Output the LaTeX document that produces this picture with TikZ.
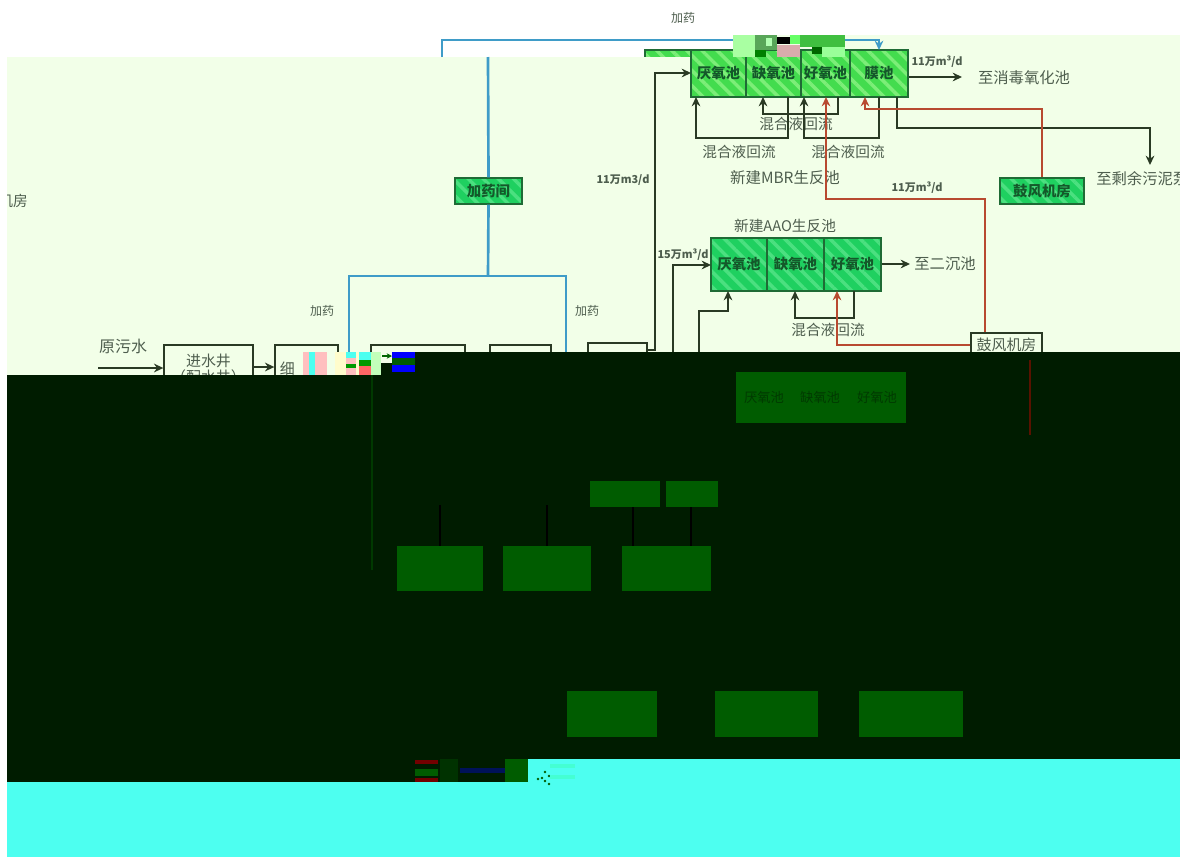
\documentclass[tikz,border=0pt]{standalone}
\usepackage{fontspec}
\setmainfont{Noto Sans CJK SC}
\usetikzlibrary{patterns.meta,arrows.meta,calc}
\definecolor{palebg}{HTML}{F2FFE8}
\definecolor{darkbg}{HTML}{001C00}
\definecolor{cyanbg}{HTML}{4DFFF0}
\definecolor{flowblk}{HTML}{2A3A24}
\definecolor{bluel}{HTML}{3F9CC8}
\definecolor{redl}{HTML}{B84A30}
\definecolor{labelc}{HTML}{4E5E4E}
\definecolor{greenA}{HTML}{43DC4E}
\definecolor{greenAs}{HTML}{7CEE78}
\definecolor{greenB}{HTML}{1FD060}
\definecolor{greenBs}{HTML}{4BE080}
\definecolor{edgeg}{HTML}{1F6B35}
\definecolor{tanktxt}{HTML}{14582A}
\definecolor{darkbox}{HTML}{005C00}
\definecolor{darktxt}{HTML}{003A00}
\tikzset{
  flow/.style={draw=flowblk,line width=1.9pt,-{Stealth[length=7pt,width=6.5pt]}},
  blueflow/.style={draw=bluel,line width=2pt},
  redflow/.style={draw=redl,line width=2pt},
  redarrow/.style={redflow,-{Stealth[length=7pt,width=6.5pt]}},
  plainbox/.style={draw=flowblk,line width=1pt,fill=palebg,text=labelc,font=\fontsize{11.2}{13}\selectfont},
  tankA/.style={draw=edgeg,line width=1pt,preaction={fill=greenA},pattern={Lines[angle=-45,distance=8pt,line width=2.6pt]},pattern color=greenAs,text=tanktxt,font=\fontsize{10.8}{12}\selectfont\bfseries},
  tankB/.style={draw=edgeg,line width=1pt,preaction={fill=greenB},pattern={Lines[angle=-45,distance=8pt,line width=2.6pt]},pattern color=greenBs,text=tanktxt,font=\fontsize{10.8}{12}\selectfont\bfseries},
  darktank/.style={draw=none,fill=darkbox,text=darktxt,font=\fontsize{10}{12}\selectfont},
  lab/.style={text=labelc,font=\fontsize{11}{13}\selectfont,inner sep=0pt},
  biglab/.style={text=labelc,font=\fontsize{11.5}{13}\selectfont,inner sep=0pt},
  smalllab/.style={text=labelc,font=\fontsize{9}{10}\selectfont,inner sep=0pt},
  ratelab/.style={text=labelc,font=\fontsize{8.2}{9}\selectfont\bfseries,inner sep=0pt},
}
% \pbox[style]{name}{x1}{y1}{x2}{y2}{text}
\newcommand\pbox[7][]{%
  \pgfmathsetmacro\pcx{(#3+#5)/2}\pgfmathsetmacro\pcy{(#4+#6)/2}%
  \pgfmathsetmacro\pw{(#5-#3)*0.75}\pgfmathsetmacro\ph{(#6-#4)*0.75}%
  \node[#1,rectangle,inner sep=0pt,minimum width=\pw pt,minimum height=\ph pt] (#2) at (\pcx,\pcy) {#7};}
\newcommand\pfill[5]{\fill[#1] (#2,#3) rectangle (#4,#5);}
\begin{document}
\begin{tikzpicture}[x=0.75pt,y=-0.75pt]
\useasboundingbox (0,0) rectangle (1192,857);
\fill[white] (0,0) rectangle (1192,857);
\fill[palebg] (7,57) rectangle (1180,380);
\fill[palebg] (733,35) rectangle (1180,57);

% shifted top slice
\pbox[tankA]{topA}{645}{50}{700}{70}{}
\pbox[tankA]{topB}{700}{50}{755}{70}{}
\fill[palebg] (640,57) rectangle (691,72);

% MBR tank
\pbox[tankA]{mbrA}{691}{50}{746}{97}{厌氧池}
\pbox[tankA]{mbrB}{746}{50}{801}{97}{缺氧池}
\pbox[tankA]{mbrC}{801}{50}{850}{97}{好氧池}
\pbox[tankA]{mbrD}{850}{50}{908}{97}{膜池}

% AAO tank
\pbox[tankB]{aaoA}{711}{238}{767}{291}{厌氧池}
\pbox[tankB]{aaoB}{767}{238}{824}{291}{缺氧池}
\pbox[tankB]{aaoC}{824}{238}{881}{291}{好氧池}

% dosing room and blowers
\pbox[tankB]{dose}{455}{178}{522}{204}{加药间}
\pbox[tankB]{blowG}{1000}{178}{1084}{204}{鼓风机房}
\pbox[plainbox]{blowW}{971}{333}{1042}{357}{鼓风机房}

% inlet row
\pbox[plainbox,align=center]{well}{164}{345}{253}{392}{进水井\\[-1pt]（配水井）}
\pbox[plainbox,align=left,text width=40pt]{fine}{275}{345}{338}{392}{细}
\pbox[plainbox]{boxC}{371}{345}{465}{392}{}
\pbox[plainbox]{boxD}{490}{345}{551}{392}{}
\pbox[plainbox]{boxE}{588}{343}{647}{392}{}

% labels
\node[smalllab] (t1) at (683,18) {加药};
\node[smalllab] (t2) at (322,311) {加药};
\node[smalllab] (t3) at (587,311) {加药};
\node[lab,font=\fontsize{12}{13}\selectfont] (t4) at (123,346) {原污水};
\node[lab,anchor=east] (t5) at (28,201) {机房};
\node[ratelab] (t6) at (623,180) {11万m3/d};
\node[ratelab] (t7) at (937,62) {11万m³/d};
\node[ratelab] (t8) at (917,188) {11万m³/d};
\node[ratelab] (t9) at (683,255) {15万m³/d};
\node[biglab] (t10) at (1024,78) {至消毒氧化池};
\node[biglab,anchor=west] (t11) at (1096,179) {至剩余污泥泵房};
\node[biglab] (t12) at (945,264) {至二沉池};
\node[lab] (t13) at (796,124) {混合液回流};
\node[lab] (t14) at (739,152) {混合液回流};
\node[lab] (t15) at (848,152) {混合液回流};
\node[lab] (t16) at (828,330) {混合液回流};
\node[lab,font=\fontsize{11.6}{13}\selectfont] (t17) at (785,178) {新建MBR生反池};
\node[lab] (t18) at (785,226) {新建AAO生反池};

% named free ends
\coordinate (in) at (98,368);
\coordinate (mOut) at (962,77);
\coordinate (aOut) at (910,264);
\coordinate (sludge) at (1150,165);
\coordinate (up655) at (655,350);
\coordinate (up673) at (673,380);
\coordinate (up699) at (699,380);
\coordinate (bl) at (442,57);
\coordinate (bt) at (488,57);
\coordinate (junc) at (488,276);
\coordinate (bL) at (349,380);
\coordinate (bR) at (566,380);

% black flows
\draw[flow,line width=1.4pt] (in) -- (in -| well.west);
\draw[flow] (well.east |- 0,367) -- (fine.west |- 0,367);
\draw[flow] (mbrD.east |- mOut) -- (mOut);
\draw[flow] (aaoC.east |- aOut) -- (aOut);
\draw[flow] (boxE.east |- up655) -- (up655) -- (655,73) -- (691,73);
\draw[flow] (up673) -- (673,265) -- (711,265);
\draw[flow] (up699) -- (699,311) -- (728,311) -- (728,291);
\draw[flow] (788,97) -- (788,138) -- (696,138) -- (696,97);
\draw[flow] (838,97) -- (838,114) -- (763,114) -- (763,97);
\draw[flow] (879,97) -- (879,138) -- (804,138) -- (804,97);
\draw[flow] (854,291) -- (854,318) -- (795,318) -- (795,291);
\draw[flow] (897,97) -- (897,128) -- (1150,128) -- (sludge);

% red air lines
\draw[redarrow] (blowW.north -| 985,0) -- (985,199) -- (826,199) -- (826,97);
\draw[redarrow] (blowW.west |- 0,345) -- (837,345) -- (837,291);
\draw[redarrow] (blowG.north -| 1042,0) -- (1042,109) -- (865,109) -- (865,97);

% blue dosing lines
\draw[blueflow,-{Stealth[length=7pt,width=6.5pt]}] (bl) -- (442,40) -- (879,40) -- (879,50);
\draw[blueflow] (bt) -- (dose.north);
\draw[blueflow] (dose.south) -- (junc);
\draw[blueflow] (bL) -- (349,276) -- (566,276) -- (bR);

% dark band
\fill[darkbg] (7,375) rectangle (1180,782);
\fill[darkbg] (381,363) rectangle (1180,375);
\fill[darkbg] (415,352) rectangle (1180,363);
\fill[cyanbg] (7,782) rectangle (1180,857);
\fill[cyanbg] (528,759) rectangle (1180,782);

% faded shapes on the dark band
\pbox[darktank]{dA}{736}{372}{792}{423}{厌氧池}
\pbox[darktank]{dB}{792}{372}{848}{423}{缺氧池}
\pbox[darktank]{dC}{848}{372}{906}{423}{好氧池}
\pbox[darktank]{d1}{590}{481}{660}{507}{}
\pbox[darktank]{d2}{666}{481}{718}{507}{}
\pbox[darktank]{d3}{397}{546}{483}{591}{}
\pbox[darktank]{d4}{503}{546}{591}{591}{}
\pbox[darktank]{d5}{622}{546}{711}{591}{}
\pbox[darktank]{d6}{567}{691}{657}{737}{}
\pbox[darktank]{d7}{715}{691}{818}{737}{}
\pbox[darktank]{d8}{859}{691}{963}{737}{}
\coordinate (dl1) at (440,505);
\coordinate (dl2) at (547,505);
\coordinate (dr) at (1030,360);
\coordinate (drb) at (1030,435);
\coordinate (dg) at (372,375);
\coordinate (dgb) at (372,570);
\draw[black,line width=1.8pt] (dl1) -- (dl1 |- d3.north);
\draw[black,line width=1.8pt] (dl2) -- (dl2 |- d4.north);
\draw[black,line width=1.8pt] (d1.south -| 633,0) -- (d5.north -| 633,0);
\draw[black,line width=1.8pt] (d2.south -| 691,0) -- (d5.north -| 691,0);
\draw[color=red!35!darkbg,line width=1.8pt] (dr) -- (drb);
\draw[color=darkbox!45!darkbg,line width=1pt] (dg) -- (dgb);

% corrupted patches, upper band
\pfill{green!30!palebg}{733}{35}{755}{57}
\pfill{green!30!gray}{755}{35}{777}{50}
\pfill{white!70!green}{766}{38}{772}{46}
\pfill{black}{777}{37}{790}{44}
\pfill{green!60!white}{790}{35}{800}{44}
\pfill{pink!70!gray}{777}{45}{800}{57}
\pfill{green!50!gray}{800}{35}{845}{47}
\pfill{green!40!black}{812}{47}{822}{54}
\pfill{green!40!white}{822}{47}{845}{57}
\pfill{black!50!green}{755}{50}{766}{57}

% corrupted patches, inlet row
\pfill{yellow!20!white}{335}{352}{381}{375}
\pfill{pink}{303}{352}{322}{375}
\pfill{cyanbg}{309}{352}{315}{375}
\pfill{pink}{322}{352}{327}{375}
\pfill{cyanbg}{346}{352}{356}{358}
\pfill{pink}{346}{358}{356}{364}
\pfill{green!60!black}{346}{364}{356}{368}
\pfill{pink}{346}{368}{356}{375}
\pfill{cyanbg}{359}{352}{371}{360}
\pfill{green!60!black}{359}{360}{371}{366}
\pfill{red!60!white}{359}{366}{371}{375}
\pfill{green!20!palebg}{371}{352}{381}{375}
\pfill{blue}{392}{352}{415}{358}
\pfill{darkbox}{392}{358}{415}{365}
\pfill{blue}{392}{365}{415}{372}
\coordinate (sA) at (382,356);
\coordinate (sB) at (392,356);
\draw[draw=green!40!black,line width=1.2pt,-{Stealth[length=4pt,width=4pt]}] (sA) -- (sB);

% corrupted patches, lower band
\pfill{red!45!black}{415}{760}{438}{764}
\pfill{darkbox}{415}{769}{438}{776}
\pfill{red!45!black}{415}{778}{438}{782}
\pfill{darkbox!35!darkbg}{440}{759}{458}{782}
\pfill{darkbg}{458}{759}{505}{782}
\pfill{blue!35!darkbg}{460}{768}{505}{773}
\pfill{darkbox}{505}{759}{528}{782}
\foreach \dx/\dy in {545/772,549/776,545/781,549/784,542/778,538/779}{\fill[darkbox] (\dx,\dy) circle (1.3);}
\fill[green!12!cyanbg] (550,764) rectangle (575,768);
\fill[green!12!cyanbg] (550,775) rectangle (575,779);

% white page margins
\fill[white] (0,0) rectangle (7,857);
\fill[white] (1180,0) rectangle (1192,857);
\end{tikzpicture}
\end{document}
